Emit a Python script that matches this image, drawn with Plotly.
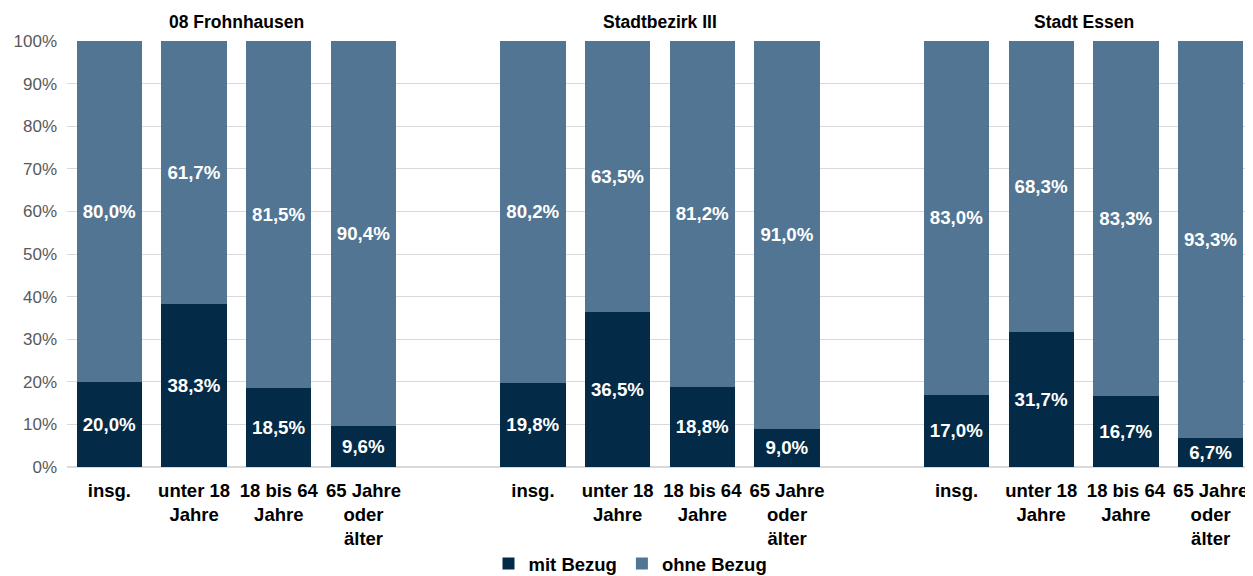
import plotly.graph_objects as go

groups = ["08 Frohnhausen", "Stadtbezirk III", "Stadt Essen"]
categories = ["insg.", "unter 18<br>Jahre", "18 bis 64<br>Jahre", "65 Jahre<br>oder<br>älter"]
mit_bezug = [[20.0, 38.3, 18.5, 9.6], [19.8, 36.5, 18.8, 9.0], [17.0, 31.7, 16.7, 6.7]]
ohne_bezug = [[80.0, 61.7, 81.5, 90.4], [80.2, 63.5, 81.2, 91.0], [83.0, 68.3, 83.3, 93.3]]
y_ticks = [0, 10, 20, 30, 40, 50, 60, 70, 80, 90, 100]

slot = len(categories) + 1
xs, mit, ohne, ticktext = [], [], [], []
for g in range(len(groups)):
    for c in range(len(categories)):
        xs.append(g * slot + c)
        mit.append(mit_bezug[g][c])
        ohne.append(ohne_bezug[g][c])
        ticktext.append(categories[c])

def fmt(v):
    return f"{v:.1f}%".replace(".", ",")

# The page body has an 8px default margin; the figure is sized to compensate.
W, H = 1245, 568
font_family = "Liberation Sans, Arial, sans-serif"
label_font = dict(color="white", size=18.7, family=font_family, weight="bold")
fig = go.Figure()
fig.add_trace(go.Bar(
    x=xs, y=mit, name="mit Bezug", marker_color="#032A46",
    text=[fmt(v) for v in mit], textposition="inside", insidetextanchor="middle",
    textfont=label_font, textangle=0, marker_line_width=0,
))
fig.add_trace(go.Bar(
    x=xs, y=ohne, name="ohne Bezug", marker_color="#517592",
    text=[fmt(v) for v in ohne], textposition="inside", insidetextanchor="middle",
    textfont=label_font, textangle=0, marker_line_width=0,
))

for g, name in enumerate(groups):
    center = g * slot + (len(categories) - 1) / 2
    fig.add_annotation(x=center, xref="x", y=1.045, yref="paper", text=f"<b>{name}</b>",
                       showarrow=False, font=dict(size=17.5, color="black", family=font_family),
                       yanchor="middle")

fig.update_layout(
    width=W, height=H,
    margin=dict(l=59, r=0, t=33, b=109, autoexpand=False),
    barmode="stack", bargap=0.23,
    plot_bgcolor="white", paper_bgcolor="white",
    font=dict(family=font_family, size=17, color="#595959"),
    showlegend=True,
    legend=dict(orientation="h", x=0.5, xanchor="center", xref="container",
                y=1 - 556 / H, yanchor="middle", yref="container",
                font=dict(size=18.5, color="black", family=font_family, weight="bold"),
                traceorder="normal", itemwidth=30),
    uniformtext=dict(mode=False),
)
fig.update_xaxes(
    range=[-0.5, len(groups) * slot - 1 - 0.5],
    tickmode="array", tickvals=xs, ticktext=ticktext, automargin=False,
    tickfont=dict(size=18.5, color="black", family=font_family, weight="bold"),
    showgrid=False, zeroline=False, showline=False, ticks="", ticklabelstandoff=10,
)
fig.update_yaxes(
    range=[0, 100], tickmode="array", tickvals=y_ticks, ticktext=[f"{v}%" for v in y_ticks],
    showgrid=True, gridcolor="#D9D9D9", gridwidth=1, zeroline=True, zerolinecolor="#D9D9D9",
    zerolinewidth=2, tickfont=dict(size=17, color="#595959", family=font_family),
    ticks="", ticklabelstandoff=9, automargin=False,
)
fig.write_html("out.html")
